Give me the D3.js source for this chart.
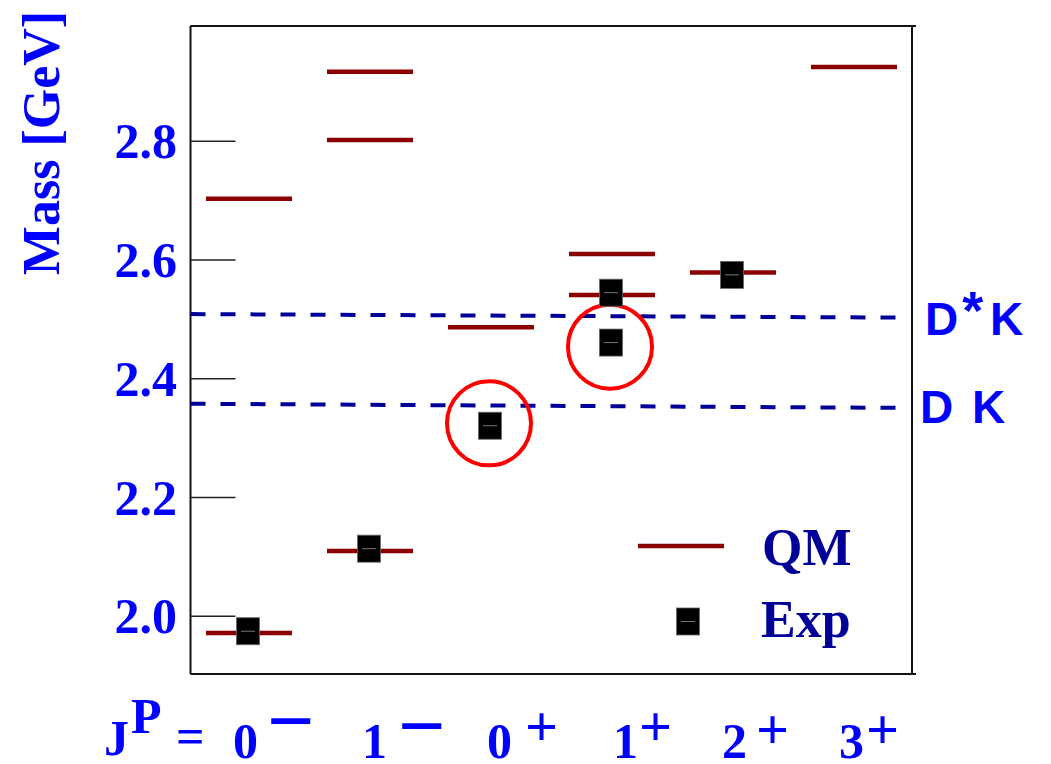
<!DOCTYPE html>
<html>
<head>
<meta charset="utf-8">
<script src="https://cdn.jsdelivr.net/npm/d3@7"></script>
<style>
  html, body { margin: 0; padding: 0; background: #fff; }
  svg { display: block; }
</style>
</head>
<body>
<svg id="chart" width="1051" height="764"></svg>
<script>
// Spin-parity channels of the Ds spectrum
const categories = ["0-", "1-", "0+", "1+", "2+", "3+"];
const digitLabels = ["0", "1", "0", "1", "2", "3"];
const parityLabels = ["\u2212", "\u2212", "+", "+", "+", "+"];

// Quark-model levels (GeV)
const qmCategory = ["0-", "0-", "1-", "1-", "1-", "0+", "1+", "1+", "2+", "3+"];
const qmMass     = [1.971, 2.702, 2.109, 2.801, 2.916, 2.486, 2.540, 2.609, 2.578, 2.924];

// Measured states (GeV)
const expCategory = ["0-", "1-", "0+", "1+", "1+", "2+"];
const expMass     = [1.974, 2.113, 2.320, 2.460, 2.544, 2.574];

// Highlighted states
const circledCategory = ["0+", "1+"];
const circledMass     = [2.324, 2.453];

// Two-meson thresholds (value at left edge, value at right edge)
const thresholdNames = ["D*K", "DK"];
const thresholdStart = [2.508, 2.357];
const thresholdEnd   = [2.502, 2.350];

const yTicks = [2.0, 2.2, 2.4, 2.6, 2.8];

// ---- layout ----
const plot = { left: 190.5, top: 26, right: 912, bottom: 674 };
const serif = "'Liberation Serif', 'Times New Roman', serif";
const sans = "'Liberation Sans', Arial, sans-serif";
const blue = "#0000ff";
const navy = "#000099";
const darkRed = "#8b0000";

const svg = d3.select("#chart");
svg.append("rect").attr("width", 1051).attr("height", 764).attr("fill", "#fff");

const x = d3.scalePoint().domain(categories).range([249, 854]);
const y = d3.scaleLinear().domain([1.902, 2.993]).range([plot.bottom, plot.top]);

// Frame
const frame = svg.append("g").attr("stroke", "#111").attr("stroke-width", 2).attr("fill", "none");
frame.append("line").attr("x1", plot.left).attr("x2", plot.right + 4).attr("y1", plot.top).attr("y2", plot.top);
frame.append("line").attr("x1", plot.left).attr("x2", plot.right + 4).attr("y1", plot.bottom).attr("y2", plot.bottom);
frame.append("line").attr("x1", plot.left).attr("x2", plot.left).attr("y1", plot.top).attr("y2", plot.bottom);
frame.append("line").attr("x1", plot.right).attr("x2", plot.right).attr("y1", plot.top).attr("y2", plot.bottom);

// Left axis: ticks inside the frame, labels outside
const yAxis = d3.axisRight(y).tickValues(yTicks).tickSize(45).tickFormat("");
const ya = svg.append("g").attr("transform", `translate(${plot.left},0)`).call(yAxis);
ya.select(".domain").remove();
ya.selectAll(".tick line").attr("stroke", "#222").attr("stroke-width", 1.5);

svg.append("g").selectAll("text").data(yTicks).join("text")
  .attr("x", 177).attr("y", d => y(d)).attr("dy", "0.35em")
  .attr("text-anchor", "end")
  .attr("font-family", serif).attr("font-weight", "bold").attr("font-size", 50)
  .attr("fill", blue)
  .text(d => d3.format(".1f")(d));

// Axis title
svg.append("text")
  .attr("transform", "translate(59,143) rotate(-90)")
  .attr("text-anchor", "middle")
  .attr("font-family", serif).attr("font-weight", "bold").attr("font-size", 52)
  .attr("fill", blue)
  .text("Mass [GeV]");

// Threshold lines
thresholdNames.forEach((name, i) => {
  svg.append("line")
    .attr("x1", plot.left).attr("x2", plot.right - 6)
    .attr("y1", y(thresholdStart[i])).attr("y2", y(thresholdEnd[i]))
    .attr("stroke", navy).attr("stroke-width", 4)
    .attr("stroke-dasharray", "15,15");
});

// Threshold labels
const dstar = svg.append("text")
  .attr("x", 925).attr("y", 335)
  .attr("font-family", sans).attr("font-weight", "bold").attr("font-size", 46)
  .attr("fill", blue);
dstar.append("tspan").text("D");
dstar.append("tspan").attr("dx", 4).attr("dy", -6).attr("font-size", 54).text("*");
dstar.append("tspan").attr("x", 990).attr("dy", 6).text("K");

const dk = svg.append("text")
  .attr("x", 920).attr("y", 423)
  .attr("font-family", sans).attr("font-weight", "bold").attr("font-size", 46)
  .attr("fill", blue);
dk.append("tspan").text("D");
dk.append("tspan").attr("x", 972).text("K");

// Quark-model levels
const qmHalf = 43;
svg.append("g").selectAll("line").data(qmMass).join("line")
  .attr("x1", (d, i) => x(qmCategory[i]) - qmHalf)
  .attr("x2", (d, i) => x(qmCategory[i]) + qmHalf)
  .attr("y1", d => y(d)).attr("y2", d => y(d))
  .attr("stroke", darkRed).attr("stroke-width", 4.5);

// Highlight circles
svg.append("g").selectAll("circle").data(circledMass).join("circle")
  .attr("cx", (d, i) => x(circledCategory[i]) - 2)
  .attr("cy", d => y(d))
  .attr("r", 42)
  .attr("fill", "none").attr("stroke", "#ff0000").attr("stroke-width", 4);

// Measured states
const sqW = 23, sqH = 27;
function expMarker(g, cx, cy) {
  g.append("rect")
    .attr("x", cx - sqW / 2).attr("y", cy - sqH / 2)
    .attr("width", sqW).attr("height", sqH)
    .attr("fill", "#000").attr("stroke", "#666").attr("stroke-width", 0.8);
  g.append("line")
    .attr("x1", cx - 7).attr("x2", cx + 7).attr("y1", cy).attr("y2", cy)
    .attr("stroke", "#777").attr("stroke-width", 1);
}
const expG = svg.append("g");
expMass.forEach((m, i) => expMarker(expG, x(expCategory[i]) - 1, y(m)));

// Legend
const legend = svg.append("g");
legend.append("line").attr("x1", 638).attr("x2", 724).attr("y1", 546).attr("y2", 546)
  .attr("stroke", darkRed).attr("stroke-width", 4.5);
legend.append("text").attr("x", 762).attr("y", 565)
  .attr("font-family", serif).attr("font-weight", "bold").attr("font-size", 52)
  .attr("fill", navy).text("QM");
expMarker(legend, 688, 621.5);
legend.append("text").attr("x", 761).attr("y", 637)
  .attr("font-family", serif).attr("font-weight", "bold").attr("font-size", 52)
  .attr("fill", navy).text("Exp");

// J^P row under the frame
const xl = svg.append("g").attr("font-family", serif).attr("font-weight", "bold").attr("fill", blue);
xl.append("text").attr("x", 104).attr("y", 755).attr("font-size", 50).text("J");
xl.append("text").attr("x", 131).attr("y", 733).attr("font-size", 50).text("P");
xl.append("text").attr("x", 176).attr("y", 753).attr("font-size", 50).text("=");

// per-label nudges: [digit offset from channel centre, gap before parity sign]
const labelLayout = [[-16, 9], [-8, 11], [-4, 13], [1, 1], [-11, 9], [-15, 2]];
categories.forEach((c, i) => {
  const dx = x(c) + labelLayout[i][0];
  const digit = xl.append("text").attr("x", dx).attr("y", 758).attr("font-size", 50).text(digitLabels[i]);
  const w = digit.node().getComputedTextLength();
  const isMinus = parityLabels[i] === "\u2212";
  xl.append("text")
    .attr("x", dx + w + labelLayout[i][1])
    .attr("y", isMinus ? (i === 0 ? 749 : 754) : (i < 4 ? 746 : 749))
    .attr("font-size", isMinus ? 84 : 58)
    .text(parityLabels[i]);
});
</script>
</body>
</html>
